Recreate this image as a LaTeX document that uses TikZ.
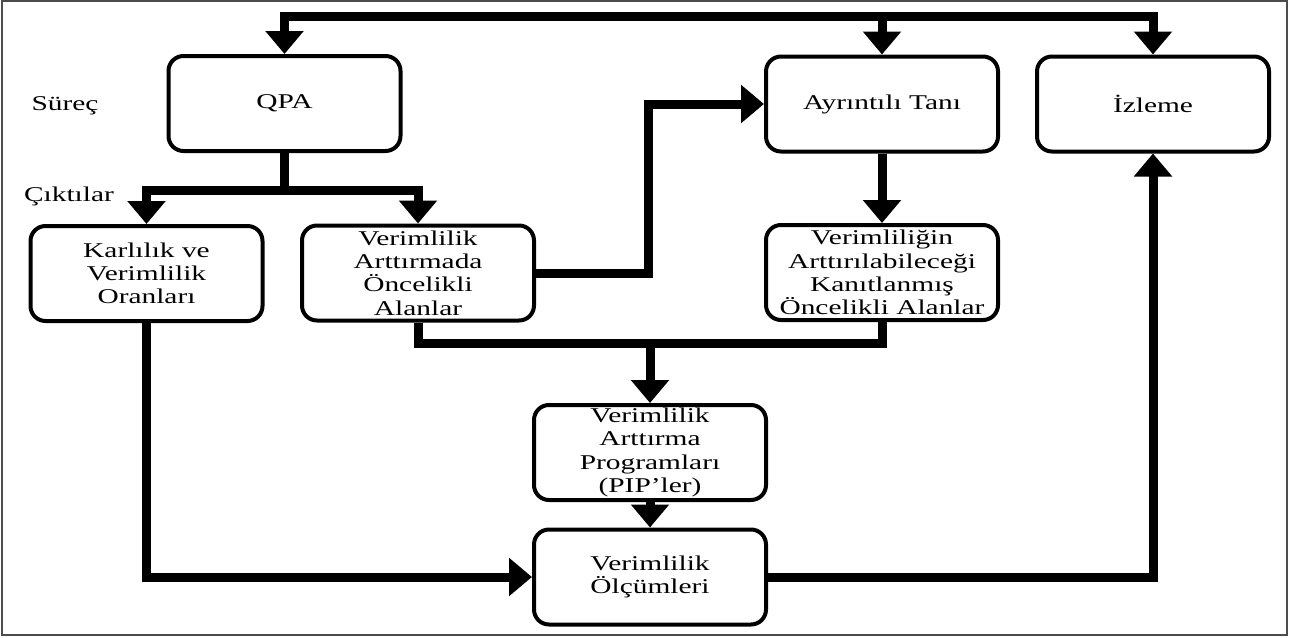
\documentclass[tikz,border=0pt]{standalone}
\usepackage{fontspec}
\setmainfont{Liberation Serif}[FakeStretch=1.4]
\usetikzlibrary{arrows.meta,calc}
\begin{document}
\begin{tikzpicture}[x=1pt,y=-1pt,
  box/.style={draw=black, line width=4pt, rounded corners=15pt, fill=white,
    minimum width=232pt, minimum height=95pt, inner sep=0pt, align=center,
    font=\fontsize{21}{23.3}\selectfont},
  lbl/.style={inner sep=0pt, font=\fontsize{21}{23.3}\selectfont},
  conn/.style={line width=9pt, black},
  arr/.style={conn, -{Triangle[width=37pt,length=23pt]}}]
\useasboundingbox (0,0) rectangle (1289,637);
\draw[gray!60!black, line width=1.5pt] (2,1) rectangle (1287,635);

\node[box] (QPA) at (284.5,103.5) {QPA};
\node[box] (Ayr) at (882,104) {Ayrıntılı Tanı};
\node[box] (Izl) at (1153,104) {İzleme};
\node[box] (Kar) at (146.5,273.5) {Karlılık ve\\Verimlilik\\Oranları};
\node[box] (VA) at (418,273) {Verimlilik\\Arttırmada\\Öncelikli\\Alanlar};
\node[box] (VK) at (882,272.5) {Verimliliğin\\Arttırılabileceği\\Kanıtlanmış\\Öncelikli Alanlar};
\node[box] (PIP) at (650,452.5) {Verimlilik\\Arttırma\\Programları\\(PIP’ler)};
\node[box] (VO) at (650,577) {Verimlilik\\Ölçümleri};

\node[lbl] (sur) at (65,106) {Süreç};
\node[lbl] (cik) at (69,196) {Çıktılar};

\coordinate (T) at (0,16);
\coordinate (S) at (0,190);
\coordinate (B) at (0,343);

% top feed line
\draw[arr] (Ayr.north |- T) -| (QPA.north);
\draw[arr] (Ayr.north |- T) -| (Izl.north);
\draw[arr] (Ayr.north |- T) -- (Ayr.north);

% QPA outputs
\draw[conn] (QPA.south) -- (QPA.south |- S);
\draw[arr] (QPA.south |- S) -| (Kar.north);
\draw[arr] (QPA.south |- S) -| (VA.north);

% VA to detailed diagnosis
\draw[arr] (VA.east) -| ($(Ayr.west)+(-116,0)$) -- (Ayr.west);
\draw[arr] (Ayr.south) -- (VK.north);

% merge to PIP
\draw[conn] (VA.south) |- (VK.south |- B) -- (VK.south);
\draw[arr] (PIP.north |- B) -- (PIP.north);
\draw[arr] (PIP.south) -- (VO.north);

% measurements
\draw[arr] (Kar.south) |- (VO.west);
\draw[arr] (VO.east) -| (Izl.south);
\end{tikzpicture}
\end{document}
